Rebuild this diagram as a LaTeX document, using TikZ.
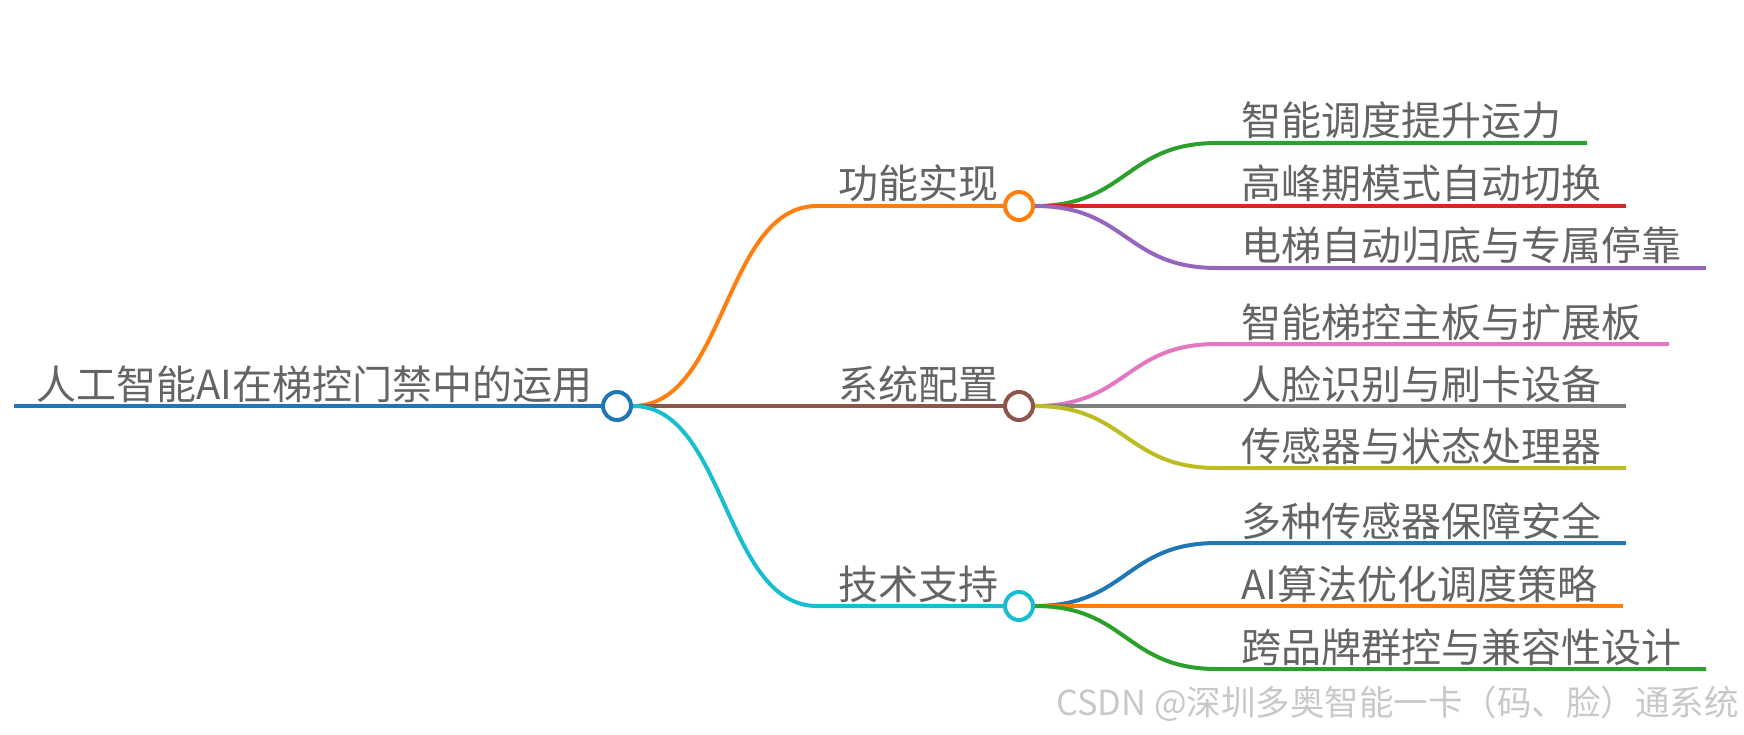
\documentclass[tikz,border=0pt]{standalone}
\usepackage{fontspec}
\newfontfamily\cjk{Noto Sans CJK SC}
\definecolor{cBlue}{HTML}{1F77B4}
\definecolor{cOrange}{HTML}{FF7F0E}
\definecolor{cGreen}{HTML}{2CA02C}
\definecolor{cRed}{HTML}{D62728}
\definecolor{cPurple}{HTML}{9467BD}
\definecolor{cBrown}{HTML}{8C564B}
\definecolor{cPink}{HTML}{E377C2}
\definecolor{cGray}{HTML}{7F7F7F}
\definecolor{cOlive}{HTML}{BCBD22}
\definecolor{cCyan}{HTML}{17BECF}
\definecolor{txtgray}{HTML}{646464}
\definecolor{wmgray}{HTML}{C8C8C8}
\begin{document}
\begin{tikzpicture}[x=1pt,y=1pt,
    link/.style={line width=4pt},
    dot/.style={circle,draw,fill=white,line width=4pt,minimum size=28pt,inner sep=0pt},
    lbl/.style={anchor=base west,inner sep=0pt,text=txtgray,font=\cjk\fontsize{40}{48}\selectfont}]
    \useasboundingbox (0,0) rectangle (1744,-735);
    % root
    \coordinate (rs) at (14,-406);
    \node[dot,draw=cBlue] (root) at (617,-406) {};
    \node[lbl] (rtxt) at (36,-399) {人工智能AI在梯控门禁中的运用};
    \draw[link,cBlue] (rs) -- (root);
    % first level
    \foreach \n/\y/\col/\txt in {fun/-206/cOrange/功能实现, sys/-406/cBrown/系统配置, tec/-606/cCyan/技术支持}
    {
        \coordinate (\n s) at (817,\y);
        \node[dot,draw=\col] (\n) at (1019,\y) {};
        \node[lbl] (\n txt) at (838,\y+7) {\txt};
        \draw[link,\col] (root.east) .. controls +(93,0) and +(-93,0) .. (\n s) -- (\n);
    }
    % second level
    \foreach \p/\n/\y/\xe/\col/\txt in {
        fun/a1/-143/1587/cGreen/智能调度提升运力,
        fun/a2/-206/1626/cRed/高峰期模式自动切换,
        fun/a3/-268/1706/cPurple/电梯自动归底与专属停靠,
        sys/b1/-344/1669/cPink/智能梯控主板与扩展板,
        sys/b2/-406/1626/cGray/人脸识别与刷卡设备,
        sys/b3/-468/1626/cOlive/传感器与状态处理器,
        tec/c1/-543/1626/cBlue/多种传感器保障安全,
        tec/c2/-606/1623/cOrange/AI算法优化调度策略,
        tec/c3/-669/1706/cGreen/跨品牌群控与兼容性设计}
    {
        \coordinate (\n s) at (1217,\y);
        \coordinate (\n e) at (\xe,\y);
        \node[lbl] (\n) at (1241,\y+7) {\txt};
        \draw[link,\col] (\p.east) .. controls +(92,0) and +(-92,0) .. (\n s) -- (\n e);
    }
    \node[anchor=base east,inner sep=0pt,text=wmgray,font=\cjk\fontsize{34.5}{41}\selectfont] (wm) at (1739,-715) {CSDN @深圳多奥智能一卡（码、脸）通系统};
\end{tikzpicture}
\end{document}
